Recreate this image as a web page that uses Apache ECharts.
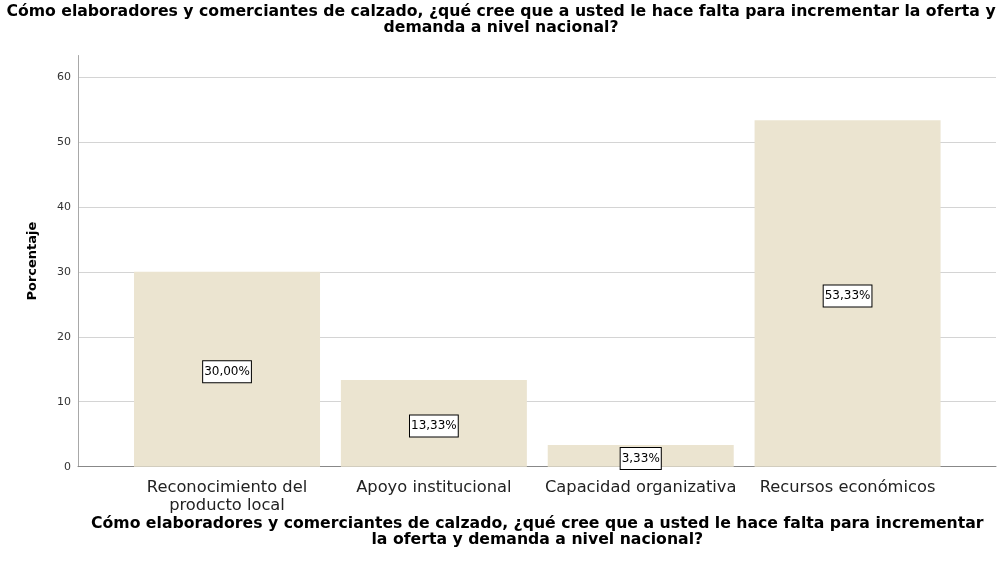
<!DOCTYPE html>
<html>
<head>
<meta charset="utf-8">
<script src="https://cdn.jsdelivr.net/npm/echarts@6/dist/echarts.min.js"></script>
<style>html,body{margin:0;padding:0;background:#fff}#c{width:1002px;height:568px}</style>
</head>
<body>
<div id="c"></div>
<script>
var titleText = 'Cómo elaboradores y comerciantes de calzado, ¿qué cree que a usted le hace falta para incrementar la oferta y\ndemanda a nivel nacional?';
var xAxisName = 'Cómo elaboradores y comerciantes de calzado, ¿qué cree que a usted le hace falta para incrementar\nla oferta y demanda a nivel nacional?';
var yAxisName = 'Porcentaje';
var categories = ['Reconocimiento del\nproducto local', 'Apoyo institucional', 'Capacidad organizativa', 'Recursos económicos'];
var percentages = [30.00, 13.33, 3.33, 53.33];
var yTicks = [0, 10, 20, 30, 40, 50, 60];

var FONT = 'DejaVu Sans, Liberation Sans, Arial, sans-serif';
var YMAX = 63.3;
var chart = echarts.init(document.getElementById('c'));
chart.setOption({
  backgroundColor: '#fff',
  animation: false,
  textStyle: { fontFamily: FONT },
  title: {
    text: titleText,
    left: 'center',
    top: -1,
    textStyle: { fontSize: 15.7, fontWeight: 'bold', color: '#000', lineHeight: 16, fontFamily: FONT }
  },
  grid: [
    { left: 78, right: 6, top: 55.5, bottom: 101.3 },
    { left: 123.6, right: 51, top: 55.5, bottom: 101.3 }
  ],
  xAxis: [
    {
      type: 'value', gridIndex: 0, min: 0, max: 1,
      axisLine: { show: true, lineStyle: { color: '#888', width: 1 } },
      axisTick: { show: false }, axisLabel: { show: false }, splitLine: { show: false }
    },
    {
      type: 'category', gridIndex: 1, data: categories,
      axisLine: { show: false }, axisTick: { show: false },
      axisLabel: { fontSize: 16.3, color: '#222', margin: 12, lineHeight: 18, fontFamily: FONT, interval: 0 },
      name: xAxisName, nameLocation: 'middle', nameGap: 49, nameMoveOverlap: false,
      nameTextStyle: { fontSize: 15.7, fontWeight: 'bold', color: '#000', lineHeight: 16, fontFamily: FONT }
    }
  ],
  yAxis: [
    {
      type: 'value', gridIndex: 0, min: 0, max: YMAX, interval: 10,
      axisLine: { show: true, lineStyle: { color: '#a8a8a8', width: 1 } },
      axisTick: { show: false },
      axisLabel: {
        fontSize: 11, color: '#333', margin: 7, showMaxLabel: false, fontFamily: FONT,
        formatter: function (v) { return yTicks.indexOf(v) >= 0 ? String(v) : ''; }
      },
      splitLine: { show: true, showMaxLine: false, lineStyle: { color: '#d4d4d4', width: 1 } },
      name: yAxisName, nameLocation: 'middle', nameGap: 39, nameRotate: 90, nameMoveOverlap: false,
      nameTextStyle: { fontSize: 13, fontWeight: 'bold', color: '#000', fontFamily: FONT }
    },
    {
      type: 'value', gridIndex: 1, min: 0, max: YMAX, interval: 10, show: false,
      splitLine: { show: false }
    }
  ],
  series: [{
    type: 'bar',
    xAxisIndex: 1, yAxisIndex: 1,
    data: percentages,
    barWidth: 186,
    itemStyle: { color: '#EBE4D0' },
    label: {
      show: true, position: 'inside', offset: [0, 2.5],
      formatter: function (p) { return p.value.toFixed(2).replace('.', ',') + '%'; },
      fontSize: 12, color: '#000', fontFamily: FONT,
      backgroundColor: '#fff', borderColor: '#000', borderWidth: 1, padding: [5, 1, 4, 1]
    }
  }]
});
</script>
</body>
</html>
